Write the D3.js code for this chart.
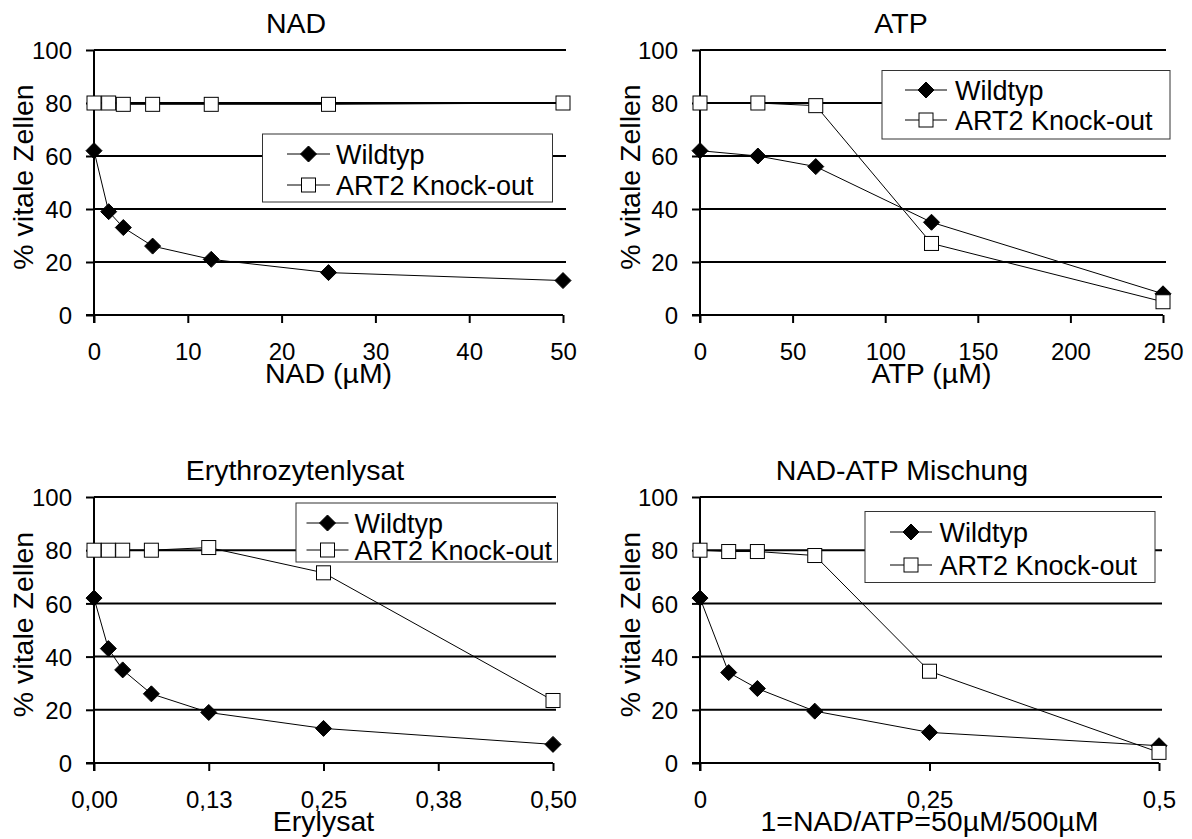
<!DOCTYPE html>
<html>
<head>
<meta charset="utf-8">
<script src="https://cdn.jsdelivr.net/npm/d3@7"></script>
<style>
  html, body { margin: 0; padding: 0; background: #fff; }
  svg { display: block; font-family: "Liberation Sans", Arial, sans-serif; }
</style>
</head>
<body>
<svg id="chart" width="1192" height="839"></svg>
<script>
// ---- Data: % vital cells per concentration ----
const seriesNames = ["Wildtyp", "ART2 Knock-out"];
const yTicks = [0, 20, 40, 60, 80, 100];

// NAD
const nadConc = [0, 1.5625, 3.125, 6.25, 12.5, 25, 50];
const nadWild = [62, 39, 33, 26, 21, 16, 13];
const nadKO   = [80, 80, 79.5, 79.5, 79.5, 79.5, 80];
const nadTicks = [0, 10, 20, 30, 40, 50];
const nadTickLabels = ["0", "10", "20", "30", "40", "50"];

// ATP
const atpConc = [0, 31.25, 62.5, 125, 250];
const atpWild = [62, 60, 56, 35, 8];
const atpKO   = [80, 80, 79, 27, 5];
const atpTicks = [0, 50, 100, 150, 200, 250];
const atpTickLabels = ["0", "50", "100", "150", "200", "250"];

// Erythrozytenlysat
const eryConc = [0, 0.015625, 0.03125, 0.0625, 0.125, 0.25, 0.5];
const eryWild = [62, 43, 35, 26, 19, 13, 7];
const eryKO   = [80, 80, 80, 80, 81, 71.5, 23.5];
const eryTicks = [0, 0.125, 0.25, 0.375, 0.5];
const eryTickLabels = ["0,00", "0,13", "0,25", "0,38", "0,50"];

// NAD-ATP Mischung
const mixConc = [0, 0.03125, 0.0625, 0.125, 0.25, 0.5];
const mixWild = [62, 34, 28, 19.5, 11.5, 6.5];
const mixKO   = [80, 79.5, 79.5, 78, 34.5, 4];
const mixTicks = [0, 0.25, 0.5];
const mixTickLabels = ["0", "0,25", "0,5"];

// ---- Layout of the four panels ----
const panels = [
  { title: "NAD", xTitle: "NAD (µM)", conc: nadConc, wild: nadWild, ko: nadKO,
    ticks: nadTicks, tickLabels: nadTickLabels, domain: [0, 50],
    px: [94, 563], py: [315, 50], titleX: 296, yTitleX: 33,
    legend: { x: 262.5, y: 134, w: 290, h: 68, rows: [154, 185], lx: [287, 330], tx: 336 } },
  { title: "ATP", xTitle: "ATP (µM)", conc: atpConc, wild: atpWild, ko: atpKO,
    ticks: atpTicks, tickLabels: atpTickLabels, domain: [0, 250],
    px: [700, 1163], py: [315, 50], titleX: 901, yTitleX: 640,
    legend: { x: 882, y: 70.5, w: 288, h: 68.5, rows: [90, 120], lx: [905, 947], tx: 955 } },
  { title: "Erythrozytenlysat", xTitle: "Erylysat", conc: eryConc, wild: eryWild, ko: eryKO,
    ticks: eryTicks, tickLabels: eryTickLabels, domain: [0, 0.5],
    px: [94, 553], py: [763, 497], titleX: 295, yTitleX: 33,
    legend: { x: 296, y: 503, w: 261.5, h: 59, rows: [523, 550], lx: [306.5, 348.5], tx: 354.5 } },
  { title: "NAD-ATP Mischung", xTitle: "1=NAD/ATP=50µM/500µM", conc: mixConc, wild: mixWild, ko: mixKO,
    ticks: mixTicks, tickLabels: mixTickLabels, domain: [0, 0.5],
    px: [700, 1159], py: [763, 497], titleX: 902, yTitleX: 640,
    legend: { x: 865, y: 511.5, w: 290, h: 71, rows: [532, 565], lx: [890, 932], tx: 939.5 } }
];

const svg = d3.select("#chart");
const diamond = d3.symbol().type(d3.symbolDiamond2 || d3.symbolDiamond);

function drawDiamond(g, cx, cy) {
  const r = 8;
  g.append("path")
    .attr("d", `M${cx},${cy - r}L${cx + r},${cy}L${cx},${cy + r}L${cx - r},${cy}Z`)
    .attr("fill", "#000").attr("stroke", "#000").attr("stroke-width", 1);
}
function drawSquare(g, cx, cy) {
  const s = 14;
  g.append("rect")
    .attr("x", cx - s / 2).attr("y", cy - s / 2)
    .attr("width", s).attr("height", s)
    .attr("fill", "#fff").attr("stroke", "#000").attr("stroke-width", 1);
}

panels.forEach(p => {
  const g = svg.append("g");
  const x = d3.scaleLinear().domain(p.domain).range(p.px);
  const y = d3.scaleLinear().domain([0, 100]).range(p.py);

  // horizontal gridlines
  g.append("g").selectAll("line")
    .data(yTicks.filter(v => v > 0))
    .join("line")
    .attr("x1", p.px[0]).attr("x2", p.px[1] + 3)
    .attr("y1", d => y(d)).attr("y2", d => y(d))
    .attr("stroke", "#000").attr("stroke-width", 2);

  // x axis
  const xAxis = d3.axisBottom(x)
    .tickValues(p.ticks)
    .tickFormat((d, i) => p.tickLabels[i])
    .tickSize(8).tickSizeOuter(0).tickPadding(20);
  const gx = g.append("g").attr("transform", `translate(0,${y(0)})`).call(xAxis);
  gx.select(".domain").attr("d", `M${p.px[0] - 8},0H${p.px[1]}`)
    .attr("stroke", "#000").attr("stroke-width", 2);
  gx.selectAll(".tick line").attr("stroke", "#000").attr("stroke-width", 2);
  gx.selectAll(".tick text")
    .attr("y", 45).attr("dy", null)
    .attr("font-size", 24).attr("fill", "#000");

  // y axis
  const yAxis = d3.axisLeft(y)
    .tickValues(yTicks)
    .tickFormat(d3.format("d"))
    .tickSize(8).tickSizeOuter(0).tickPadding(14);
  const gy = g.append("g").attr("transform", `translate(${p.px[0]},0)`).call(yAxis);
  gy.select(".domain").attr("d", `M0,${y(100)}V${y(0) + 8}`)
    .attr("stroke", "#000").attr("stroke-width", 2);
  gy.selectAll(".tick line").attr("stroke", "#000").attr("stroke-width", 2);
  gy.selectAll(".tick text")
    .attr("dy", "0.36em")
    .attr("font-size", 24).attr("fill", "#000");

  // titles
  g.append("text")
    .attr("x", p.titleX).attr("y", y(100) - 17)
    .attr("text-anchor", "middle").attr("font-size", 28.5)
    .text(p.title);
  g.append("text")
    .attr("x", (p.px[0] + p.px[1]) / 2).attr("y", y(0) + 68)
    .attr("text-anchor", "middle").attr("font-size", 28.5)
    .text(p.xTitle);
  const yMid = (y(0) + y(100)) / 2 - 5.5;
  g.append("text")
    .attr("transform", `translate(${p.yTitleX},${yMid}) rotate(-90)`)
    .attr("text-anchor", "middle").attr("font-size", 28.5)
    .text("% vitale Zellen");

  // series lines
  const line = d3.line().x(d => x(d[0])).y(d => y(d[1]));
  const wildPts = p.conc.map((c, i) => [c, p.wild[i]]);
  const koPts = p.conc.map((c, i) => [c, p.ko[i]]);
  [wildPts, koPts].forEach(pts => {
    g.append("path").attr("d", line(pts))
      .attr("fill", "none").attr("stroke", "#000").attr("stroke-width", 1);
  });
  // markers
  wildPts.forEach(d => drawDiamond(g, x(d[0]), y(d[1])));
  koPts.forEach(d => drawSquare(g, x(d[0]), y(d[1])));

  // legend
  const L = p.legend;
  const lg = g.append("g");
  lg.append("rect")
    .attr("x", L.x).attr("y", L.y).attr("width", L.w).attr("height", L.h)
    .attr("fill", "#fff").attr("stroke", "#333").attr("stroke-width", 1);
  L.rows.forEach((ry, i) => {
    lg.append("line")
      .attr("x1", L.lx[0]).attr("x2", L.lx[1]).attr("y1", ry).attr("y2", ry)
      .attr("stroke", "#000").attr("stroke-width", 1);
    const mx = (L.lx[0] + L.lx[1]) / 2;
    if (i === 0) drawDiamond(lg, mx, ry); else drawSquare(lg, mx, ry);
    lg.append("text")
      .attr("x", L.tx).attr("y", ry + 9.5)
      .attr("font-size", 27)
      .text(seriesNames[i]);
  });
});
</script>
</body>
</html>
